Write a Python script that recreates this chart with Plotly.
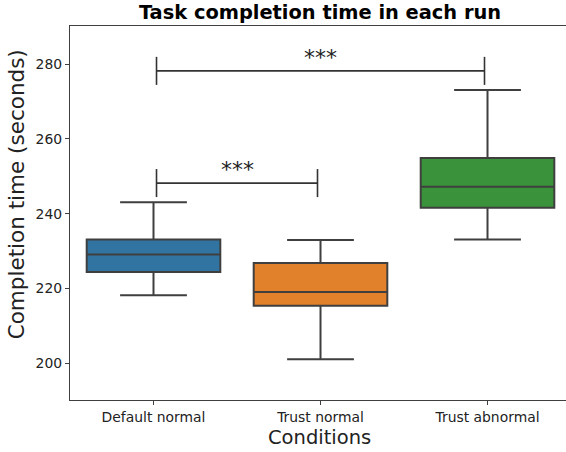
import plotly.graph_objects as go

categories = ["Default normal", "Trust normal", "Trust abnormal"]
lower_whisker = [218.2, 201.1, 233.1]
q1_values = [224.4, 215.4, 241.6]
medians = [229.1, 219.1, 247.2]
q3_values = [233.1, 226.8, 254.9]
upper_whisker = [243.1, 233.0, 273.1]
colors = ["#3274a1", "#e1812c", "#3a923a"]

# significance brackets: (left category index, right category index, height, label)
bracket_left = [0, 0]
bracket_right = [1, 2]
bracket_height = [248.2, 278.2]
bracket_labels = ["***", "***"]
bracket_tick = 3.75
bracket_inset = 0.018

y_ticks = [200, 220, 240, 260, 280]
y_range = [190.2, 290.2]

edge = "#3f3f3f"
font = "DejaVu Sans"

fig = go.Figure()
for i, cat in enumerate(categories):
    fig.add_trace(go.Box(
        x=[cat], q1=[q1_values[i]], median=[medians[i]], q3=[q3_values[i]],
        lowerfence=[lower_whisker[i]], upperfence=[upper_whisker[i]],
        fillcolor=colors[i], line=dict(color=edge, width=2),
        width=0.8, whiskerwidth=0.5, boxpoints=False, showlegend=False,
        hoverinfo="skip",
    ))

for l, r, h, lab in zip(bracket_left, bracket_right, bracket_height, bracket_labels):
    x0 = l + bracket_inset
    x1 = r - bracket_inset
    line = dict(color="#333333", width=1.6)
    fig.add_shape(type="line", xref="x", yref="y", x0=x0, x1=x1, y0=h, y1=h, line=line)
    fig.add_shape(type="line", xref="x", yref="y", x0=x0, x1=x0,
                  y0=h - bracket_tick, y1=h + bracket_tick, line=line)
    fig.add_shape(type="line", xref="x", yref="y", x0=x1, x1=x1,
                  y0=h - bracket_tick, y1=h + bracket_tick, line=line)
    fig.add_annotation(x=(x0 + x1) / 2, y=h, xref="x", yref="y", text=lab,
                       showarrow=False, yanchor="bottom", yshift=-1,
                       font=dict(family=font, size=22, color="#222222"))

# axis titles placed as paper-referenced annotations
fig.add_annotation(text="Conditions", xref="paper", yref="paper",
                   x=0.504, y=0, yshift=-37, xanchor="center", yanchor="middle",
                   showarrow=False, font=dict(family=font, size=19.5, color="#222222"))
fig.add_annotation(text="Completion time (seconds)", xref="paper", yref="paper",
                   x=0, xshift=-54, y=0.55, xanchor="center", yanchor="middle",
                   textangle=-90, showarrow=False,
                   font=dict(family=font, size=21.5, color="#222222"))

fig.update_layout(
    width=566, height=452,
    margin=dict(l=70, r=0, t=26, b=52, autoexpand=False),
    paper_bgcolor="white", plot_bgcolor="white",
    boxmode="overlay",
    font=dict(family=font, color="#222222"),
    title=dict(text="<b>Task completion time in each run</b>",
               x=0.504, xref="paper", y=1 - 12 / 452, yref="container",
               xanchor="center", yanchor="middle", automargin=False,
               font=dict(family=font, size=19.4, color="black")),
)
fig.update_xaxes(
    type="category", categoryorder="array", categoryarray=categories,
    range=[-0.5, 2.47], automargin=False,
    showline=True, linecolor=edge, linewidth=1.3, mirror=True,
    ticks="outside", ticklen=4, tickcolor=edge,
    tickfont=dict(family=font, size=13.9, color="#222222"),
    showgrid=False, zeroline=False,
)
fig.update_yaxes(
    range=y_range, tickvals=y_ticks, automargin=False,
    showline=True, linecolor=edge, linewidth=1.3, mirror=False,
    ticks="outside", ticklen=4, tickcolor=edge,
    tickfont=dict(family=font, size=13.9, color="#222222"),
    showgrid=False, zeroline=False,
)

fig.write_html("out.html", config={"displayModeBar": False},
               post_script="document.body.style.margin='0px';document.body.style.overflow='hidden';")
